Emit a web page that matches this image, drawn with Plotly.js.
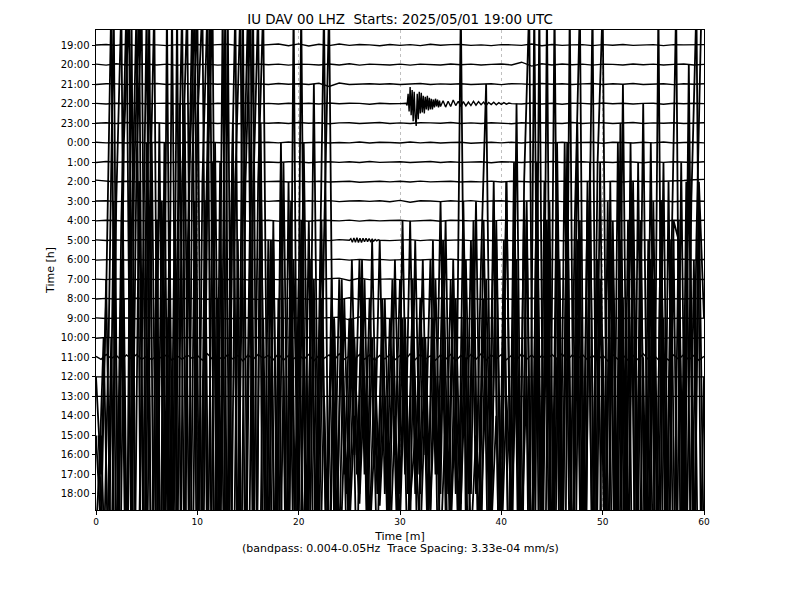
<!DOCTYPE html>
<html><head><meta charset="utf-8">
<script src="https://cdn.plot.ly/plotly-3.0.1.min.js"></script>
<style>html,body{margin:0;padding:0;background:#fff}#chart{width:800px;height:600px}</style>
</head><body><div id="chart"></div>
<script>
// Hour labels for each row (top to bottom)
const hourLabels = ["19:00","20:00","21:00","22:00","23:00","0:00","1:00","2:00","3:00","4:00","5:00","6:00",
  "7:00","8:00","9:00","10:00","11:00","12:00","13:00","14:00","15:00","16:00","17:00","18:00"];
const xTicks = [0,10,20,30,40,50,60];

// Quiet rows: amplitude in trace-spacing units, evenly sampled over 0-60 min
const tr1900 = [0,0.03,-0.02,0.04,-0.03,0.02,0.01,-0.03,0.02,-0.01, 0.03,-0.02,0.02,0.04,-0.03,0.01,-0.02,0.03,0.05,-0.04,
  0.06,-0.05,0.04,-0.03,0.05,-0.02,0.03,0.01,-0.04,0.03, -0.02,0.02,-0.03,0.04,-0.01,0.02,0.03,-0.02,0.01,-0.03,
  0.02,0.01,-0.02,0.05,-0.04,0.03,-0.02,0.01,0.02,-0.03, 0.02,-0.01,0.03,-0.02,0.01,0.02,-0.03,0.02,0.01,0.03, 0.02];
const tr2000 = [0.02,-0.03,0.04,-0.02,0.01,0.03,-0.02,0.02,-0.04,0.03, -0.01,0.02,-0.03,0.01,0.02,-0.02,0.03,-0.01,0.02,-0.03,
  0.02,0.01,-0.02,0.03,-0.02,0.04,-0.03,0.02,0.01,-0.02, 0.02,-0.03,0.02,0.01,-0.02,0.03,-0.01,0.02,-0.02,0.01,
  0.03,-0.02,0.12,-0.08,0.04,-0.02,0.03,-0.01,0.02,-0.03, 0.02,0.01,-0.02,0.03,-0.01,0.02,-0.02,0.01,0.03,-0.02, 0.01];
const tr2100 = [-0.02,0.02,0.01,-0.03,0.02,-0.01,0.03,-0.02,0.01,0.02, -0.02,0.03,-0.01,0.02,-0.03,0.01,0.02,-0.02,0.03,-0.01,
  0.02,-0.02,0.04,-0.12,0.05,-0.02,0.01,0.02,-0.01,0.02, -0.02,0.01,0.03,-0.02,0.01,-0.01,0.02,-0.02,0.01,0.02,
  -0.03,0.02,0.01,-0.02,0.03,-0.01,0.02,-0.02,0.01,0.03, -0.02,0.02,-0.01,0.03,-0.02,0.01,0.02,-0.03,0.02,-0.01, 0.02];
const tr2200 = [0.01,-0.02,0.02,-0.01,0.03,-0.02,0.01,0.02,-0.02,0.01, 0.02,-0.03,0.02,-0.01,0.01,0.03,-0.02,0.01,-0.02,0.02,
  -0.01,0.02,-0.02,0.03,-0.01,0.02,0.01,-0.03,0.02,-0.01, 0,0.05,-0.05,0.05,-0.05,0.05,-0.05,0.05,-0.05,0.05,
  -0.03,0.04,-0.02,0.03,-0.02,0.02,-0.03,0.02,0.01,-0.02, 0.03,-0.01,0.02,-0.02,0.01,0.02,-0.03,0.02,-0.01,0.02, 0];
// 22:00 earthquake segment (30.5-34.0 min, then coda 34.25-41.0 min)
const quake2200a = [0,0.02,-0.1,0.5,-0.4,0.85,-0.6,0.7,-0.9,0.6,-0.7,-1.15,0.5,-0.8,0.6,-0.5,0.55,-0.45,0.4,-0.5,
  0.35,-0.3,0.4,-0.35,0.3,-0.3,0.25,-0.3,0.2,-0.2,0.25,-0.15,0.2,-0.2,0.15,-0.15];
const quake2200b = [0.15,-0.18,0.12,-0.15,0.18,-0.1,0.12,-0.14,0.1,-0.12,0.08,-0.1,0.12,-0.08,0.1,-0.06,0.08,-0.1,
  0.06,-0.05,0.07,-0.06,0.05,-0.04,0.05,-0.03,0.03,0];
const tr2300 = [-0.01,0.02,-0.02,0.03,-0.01,0.01,0.02,-0.02,0.03,-0.02, 0.01,0.02,-0.02,0.01,-0.03,0.02,0.01,-0.01,0.02,-0.02,
  0.03,-0.01,0.02,-0.03,0.01,0.02,-0.02,0.01,0.03,-0.02, 0.01,-0.02,0.02,0.01,-0.01,0.03,-0.02,0.01,-0.02,0.02,
  0.01,-0.03,0.02,-0.01,0.02,0.01,-0.02,0.03,-0.02,0.01, 0.02,-0.02,0.01,0.03,-0.02,0.01,-0.01,0.02,-0.02,0.01, 0.02];
const tr0000 = [0.02,-0.01,0.01,-0.02,0.03,-0.02,0.02,0.01,-0.03,0.02, -0.01,0.02,0.01,-0.02,0.02,-0.03,0.01,0.02,-0.01,0.03,
  -0.02,0.01,0.02,-0.02,0.01,-0.01,0.03,-0.02,0.02,0.01, -0.02,0.03,-0.01,0.02,-0.02,0.01,0.02,-0.03,0.01,0.02,
  -0.01,0.02,-0.02,0.03,0.01,-0.02,0.02,-0.01,0.01,0.02, -0.03,0.02,0.01,-0.02,0.02,-0.01,0.03,-0.02,0.01,0.02, -0.01];
const tr0100 = [-0.02,0.03,-0.01,0.02,0.01,-0.02,0.02,-0.03,0.01,0.02, 0.01,-0.02,0.03,-0.01,0.02,-0.02,0.01,0.01,-0.02,0.02,
  0.02,-0.03,0.01,0.02,-0.01,0.02,-0.02,0.03,-0.01,0.01, 0.02,-0.02,0.01,0.03,-0.02,0.02,-0.01,0.01,0.02,-0.03,
  0.02,0.01,-0.02,0.02,-0.01,0.03,-0.02,0.01,0.02,-0.01, 0.01,-0.02,0.02,0.01,-0.03,0.02,-0.01,0.02,0.01,-0.02, 0.02];
const tr0200 = [0.08,0.04,-0.02,0.02,-0.01,0.02,0.01,-0.02,0.03,-0.01, 0.02,-0.02,0.01,0.02,-0.03,0.02,-0.01,0.01,0.02,-0.02,
  0.03,-0.01,0.02,-0.02,0.01,0.02,-0.03,0.01,0.02,-0.01, 0.02,-0.02,0.03,-0.01,0.01,0.02,-0.02,0.01,-0.01,0.03,
  -0.02,0.02,0.01,-0.02,0.02,-0.01,0.03,-0.02,0.01,0.02, -0.01,0.02,-0.02,0.03,0.01,-0.01,0.02,0.03,0.06,0.1, 0.12];
const tr0300 = [0.01,0.02,-0.02,0.01,0.03,-0.01,0.02,-0.02,0.01,0.02, -0.03,0.02,0.01,-0.01,0.02,-0.02,0.03,-0.01,0.02,0.01,
  -0.02,0.02,-0.01,0.03,-0.02,0.01,0.02,-0.01,0.02,-0.03, 0.04,-0.05,0.02,0.01,-0.02,0.02,-0.01,0.03,-0.02,0.01,
  0.02,-0.02,0.01,0.02,-0.01,0.03,-0.02,0.01,0.02,-0.02, 0.01,0.03,-0.02,0.02,-0.01,0.01,0.02,-0.03,0.02,0.01, 0];
const tr0400 = [-0.01,0.02,0.01,-0.02,0.02,-0.01,0.03,-0.02,0.01,0.02, -0.02,0.01,0.02,-0.01,0.03,-0.02,0.01,0.02,-0.02,0.01,
  0.02,-0.03,0.02,0.01,-0.01,0.03,-0.02,0.02,-0.01,0.01, 0.02,-0.02,0.01,0.02,-0.03,0.02,0.01,-0.01,0.02,-0.02,
  0.03,-0.01,0.02,-0.02,0.01,0.02,-0.01,0.03,-0.02,0.01, 0.02,-0.02,0.01,0.02,-0.01,0.02,-0.03,0.02,0.01,-0.01, 0.02];
const tr0500 = [0.02,-0.01,0.02,-0.02,0.01,0.03,-0.02,0.01,0.02,-0.01, 0.01,-0.02,0.03,-0.01,0.02,-0.02,0.01,0.02,-0.03,0.02,
  -0.01,0.02,0.01,-0.02,0.03,0,0,0,0,-0.02, 0.01,0.03,-0.02,0.02,-0.01,0.01,0.02,-0.02,0.03,-0.01,
  0.02,-0.02,0.01,0.02,-0.01,0.02,-0.03,0.02,0.01,-0.02, 0.03,-0.01,0.02,-0.02,0.01,0.02,-0.01,0.02,-0.02,0.01, 0.02];
// 5:00 small event, 25-28 min
const event0500 = [0,0.08,-0.1,0.12,-0.1,0.13,-0.12,0.1,-0.12,0.1,-0.08,0.1,-0.07,0.08,-0.06,0.05,-0.05,0.04,-0.03,0.02,0];
const tr0600 = [-0.02,0.01,0.02,-0.01,0.02,-0.02,0.03,-0.01,0.01,0.02, -0.02,0.02,-0.01,0.03,-0.02,0.01,0.02,-0.02,0.01,0.02,
  -0.01,0.02,-0.02,0.01,0.03,-0.02,0.02,-0.01,0.02,-0.02, 0.01,0.02,-0.01,0.02,-0.02,0.03,-0.01,0.01,0.02,-0.02,
  0.02,-0.01,0.01,0.03,-0.02,0.02,-0.01,0.02,-0.02,0.01, 0.02,-0.03,0.02,0.01,-0.01,0.02,-0.02,0.01,0.03,-0.02, 0.01];
const tr0700 = [0.01,-0.02,0.02,0.01,-0.01,0.02,-0.02,0.03,-0.01,0.02, -0.02,0.01,0.02,-0.01,0.02,-0.03,0.02,0.01,-0.02,0.02,
  -0.01,0.02,-0.02,0.03,0.06,-0.06,0.05,-0.02,0.01,0.02, -0.02,0.02,-0.01,0.01,0.02,-0.02,0.03,-0.01,0.02,-0.02,
  0.01,0.02,-0.01,0.02,-0.02,0.01,0.03,-0.02,0.01,0.02, -0.01,0.02,-0.02,0.01,0.02,-0.01,0.03,-0.02,0.02,0.01, -0.01];
const tr0800 = [-0.01,0.02,-0.02,0.01,0.03,-0.01,0.02,-0.02,0.01,0.02, 0.01,-0.02,0.02,-0.01,0.02,0.01,-0.03,0.02,-0.01,0.02,
  0.02,-0.02,0.01,0.02,-0.04,0.05,-0.03,0.02,-0.01,0.01, 0.02,-0.01,0.02,-0.02,0.03,-0.01,0.01,0.02,-0.02,0.01,
  0.02,-0.02,0.01,0.03,-0.01,0.02,-0.02,0.01,0.02,-0.01, 0.02,-0.02,0.03,-0.01,0.01,0.02,-0.02,0.01,-0.01,0.02, 0.01];
const tr0900 = [0.02,-0.01,0.01,0.02,-0.02,0.03,-0.01,0.02,-0.02,0.01, 0.02,-0.01,0.02,-0.02,0.01,0.03,-0.02,0.01,0.02,-0.01,
  0.02,-0.02,0.01,0.02,0.06,-0.08,0.07,-0.04,0.02,-0.01, 0.01,0.02,-0.02,0.01,0.02,-0.01,0.03,-0.02,0.01,0.02,
  -0.02,0.01,0.02,-0.01,0.02,-0.02,0.03,-0.01,0.02,-0.02, 0.01,0.02,-0.01,0.02,-0.03,0.02,0.01,-0.01,0.02,-0.02, 0.01];
const tr1000 = [-0.02,0.02,0.01,-0.01,0.02,-0.02,0.01,0.03,-0.02,0.02, -0.01,0.01,0.02,-0.02,0.03,-0.01,0.02,-0.02,0.01,0.02,
  -0.01,0.02,-0.02,0.01,0.03,-0.02,0.02,-0.01,0.01,0.02, -0.02,0.03,-0.01,0.02,-0.02,0.01,0.02,-0.01,0.02,-0.03,
  0.02,0.01,-0.02,0.02,-0.01,0.03,-0.02,0.01,0.02,-0.01, 0.02,-0.02,0.01,0.02,-0.01,0.02,-0.03,0.02,0.01,-0.02, 0.01];
const tr1100 = [0.05,-0.1,0.15,-0.05,0.1,-0.15,0.12,-0.08,0.15,-0.1, 0.05,-0.12,0.1,-0.05,0.15,-0.15,0.08,-0.1,0.12,-0.05,
  0.1,-0.15,0.18,-0.1,0.08,-0.12,0.15,-0.08,0.1,-0.18, 0.12,-0.1,0.15,-0.05,0.1,-0.12,0.18,-0.15,0.1,-0.08,
  0.12,-0.1,0.15,-0.18,0.1,-0.05,0.12,-0.15,0.18,-0.1, 0.08,-0.12,0.15,-0.1,0.12,-0.15,0.1,-0.08,0.15,-0.12,
  0.1,-0.15,0.18,-0.12,0.15,-0.1,0.08,-0.15,0.12,-0.1, 0.15,-0.18,0.1,-0.12,0.15,-0.1,0.18,-0.15,0.12,-0.08,
  0.15,-0.12,0.1,-0.15,0.18,-0.1,0.12,-0.15,0.1,-0.12, 0.15,-0.1,0.18,-0.15,0.12,-0.1,0.15,-0.12,0.1,-0.15,
  0.12,-0.18,0.15,-0.1,0.12,-0.15,0.1,-0.12,0.18,-0.1, 0.15,-0.12,0.1,-0.15,0.12,-0.1,0.15,-0.12,0.1,-0.15, 0.05];
const tr1200 = [0, 0];
const tr1300 = [0, 0];

// Large-amplitude rows, one sample every 0.5 min
const tr1400 = [2,-3,6,21,-9,10,21,-8,13,21, -10,14,-9,11,-12,21,-8,12,21,-11,
  15,21,-10,13,-9,21,-12,14,-7,10, 21,-9,12,21,-8,9,-10,13,-7,8,
  -6,14,-5,17,-7,9,21,-6,7,-3, 5,-2,8,-3,6,-2,9,-4,5,-2,
  7,-3,10,-4,6,-2,8,-3,11,-5, 7,-4,21,-6,9,-4,8,17,-5,10,
  -6,12,-7,16,-8,11,-9,13,-7,10, -8,14,-6,12,-9,15,-7,11,-8,13,
  21,-9,10,-7,17,-8,12,-6,16,-8, 11,-7,13,-9,10,9,-7,18,-8,12, 5];
const tr1500 = [-3,5,-8,12,-6,15,22,-11,13,-9, 22,-12,16,-10,11,-13,17,-8,14,22,
  -11,12,-14,15,-9,22,-12,13,22,-10, 11,-13,14,-8,10,-11,15,-7,12,-9,
  22,-8,9,-6,11,-7,8,-5,6,-3, 9,-2,7,-4,10,-3,6,-2,8,-4,
  11,-3,7,-2,9,-4,6,-2,10,-3, 8,-5,12,-3,9,-6,11,-4,13,-7,
  10,-8,14,-6,12,-9,22,-10,13,-8, 22,-9,15,-7,11,22,-10,12,-8,14,
  -9,10,-11,16,-7,13,-10,11,-8,15, -9,12,-7,10,-11,14,-8,12,22,-9];
const tr1600 = [1,-4,9,-7,13,23,-10,11,23,-12, 16,-9,12,-14,23,-11,10,23,-13,15,
  23,-10,14,23,-12,9,-15,17,-8,23, -11,13,23,-9,11,-12,8,-10,14,-7,
  9,-6,12,-8,6,23,-9,7,-5,8, -3,6,-2,9,-4,5,-2,8,-3,10,
  -2,7,-4,11,-2,6,-3,9,-2,12, -4,8,-3,10,-2,13,-5,9,-3,11,
  -6,14,-7,10,-9,12,-8,15,-10,23, -11,13,-8,16,-9,11,-12,14,-7,10,
  -9,13,-10,16,-8,12,-11,15,-9,11, -7,23,-10,14,-8,12,-11,16,-9,13, -6];
const tr1700 = [2,-5,7,24,-11,9,-13,15,24,-10, 12,24,-14,17,-9,13,-12,19,-8,14,
  -15,10,24,-11,16,-13,11,24,-10,15, 24,-12,18,-9,12,-14,16,-7,10,-9,
  13,-6,11,-8,9,-5,7,-4,10,-5, 8,-6,11,-4,7,-5,9,-3,6,-4,
  8,-5,10,-6,7,-4,12,-5,9,-6, 11,-4,8,-5,13,-6,9,-7,14,-5,
  10,-6,12,-8,15,24,-10,24,-9,14, -7,11,-10,24,-8,13,-9,16,-11,10,
  -7,15,-8,12,-10,17,-6,13,-9,11, -7,14,-8,10,24,-9,15,-7,12,24];
const tr1800 = [-2,3,-6,8,-10,12,-8,25,-12,6, 25,-10,14,-15,9,-8,25,-14,11,25,
  -9,16,25,-12,10,-16,25,-9,13,-11, 7,25,-13,9,-7,14,-10,6,-8,25,
  -9,8,-6,11,-7,5,-4,9,-5,3, -2,4,-0.5,6,-2.5,3,-0.6,5,-3,4,
  -1.5,7,-0.4,3,-2.5,5,-0.8,6,-3,4, -2,5,-0.5,7,-2.5,3,-0.7,6,-2,4,
  -3,5,-0.6,6,-2,6,-8,10,-6,12, -9,7,-5,13,-8,9,-10,6,25,-11,
  8,-7,12,-9,10,-6,14,-8,7,-10, 11,-7,9,-6,13,-9,8,-7,12,-8, 6];
const bigStep = 0.5;
const bigStart = {tr1400: 0, tr1500: 0.25, tr1600: 0, tr1700: 0.25, tr1800: 0};

function evenSeries(vals, tStart, tEnd) {
  const n = vals.length;
  return vals.map((v, j) => [tStart + (tEnd - tStart) * j / (n - 1), v]);
}
function stepSeries(vals, tStart, step) {
  return vals.map((v, j) => [tStart + step * j, v]);
}
function splice(base, seg, a, b) {
  return base.filter(p => p[0] < a).concat(seg, base.filter(p => p[0] > b));
}

const rowSeries = [
  evenSeries(tr1900, 0, 60),
  evenSeries(tr2000, 0, 60),
  evenSeries(tr2100, 0, 60),
  splice(evenSeries(tr2200, 0, 60),
         evenSeries(quake2200a, 30.5, 34.0).concat(evenSeries(quake2200b, 34.25, 41.0)), 30.5, 41.0),
  evenSeries(tr2300, 0, 60),
  evenSeries(tr0000, 0, 60),
  evenSeries(tr0100, 0, 60),
  evenSeries(tr0200, 0, 60),
  evenSeries(tr0300, 0, 60),
  evenSeries(tr0400, 0, 60),
  splice(evenSeries(tr0500, 0, 60), evenSeries(event0500, 25, 28), 25, 28),
  evenSeries(tr0600, 0, 60),
  evenSeries(tr0700, 0, 60),
  evenSeries(tr0800, 0, 60),
  evenSeries(tr0900, 0, 60),
  evenSeries(tr1000, 0, 60),
  evenSeries(tr1100, 0, 60),
  evenSeries(tr1200, 0, 60),
  evenSeries(tr1300, 0, 60),
  stepSeries(tr1400, bigStart.tr1400, bigStep),
  stepSeries(tr1500, bigStart.tr1500, bigStep),
  stepSeries(tr1600, bigStart.tr1600, bigStep),
  stepSeries(tr1700, bigStart.tr1700, bigStep),
  stepSeries(tr1800, bigStart.tr1800, bigStep)
];

const data = rowSeries.map((pts, i) => ({
  type: 'scatter', mode: 'lines',
  x: pts.map(p => p[0]),
  y: pts.map(p => p[1] - i),
  line: {color: 'black', width: i >= 19 ? 1.8 : 1.4},
  hoverinfo: 'skip', showlegend: false
}));

const layout = {
  width: 800, height: 600,
  margin: {l: 96, r: 96, t: 30, b: 90},
  paper_bgcolor: 'white', plot_bgcolor: 'white',
  font: {family: 'DejaVu Sans, sans-serif', color: 'black', size: 10},
  title: {text: 'IU DAV 00 LHZ \u00a0Starts: 2025/05/01 19:00 UTC', font: {size: 13.4, color: 'black'},
          x: 0.5, xanchor: 'center', xref: 'paper', y: 1 - 19/600, yref: 'container', yanchor: 'middle'},
  xaxis: {
    range: [0, 60], tickvals: xTicks, ticktext: xTicks.map(String),
    ticks: 'outside', ticklen: 3.5, tickwidth: 1, tickcolor: 'black', tickfont: {size: 9},
    showgrid: true, gridcolor: '#b0b0b0', gridwidth: 0.8, griddash: 'dot',
    showline: true, mirror: true, linecolor: 'black', linewidth: 1, zeroline: false,
    title: {text: 'Time [m]', font: {size: 11}, standoff: 6}
  },
  yaxis: {
    range: [-23.82, 0.77], tickvals: hourLabels.map((_, i) => -i), ticktext: hourLabels,
    ticks: 'outside', ticklen: 3.5, tickwidth: 1, tickcolor: 'black', tickfont: {size: 10},
    showgrid: false, showline: true, mirror: true, linecolor: 'black', linewidth: 1, zeroline: false,
    title: {text: 'Time [h]', font: {size: 11}, standoff: 3}
  },
  annotations: [{
    text: '(bandpass: 0.004-0.05Hz \u00a0Trace Spacing: 3.33e-04 mm/s)',
    xref: 'paper', yref: 'paper', x: 0.5, y: (510 - 548) / 480,
    xanchor: 'center', yanchor: 'middle', showarrow: false, font: {size: 11}
  }],
  hovermode: false
};

Plotly.newPlot('chart', data, layout, {staticPlot: true, displayModeBar: false});
</script></body></html>
